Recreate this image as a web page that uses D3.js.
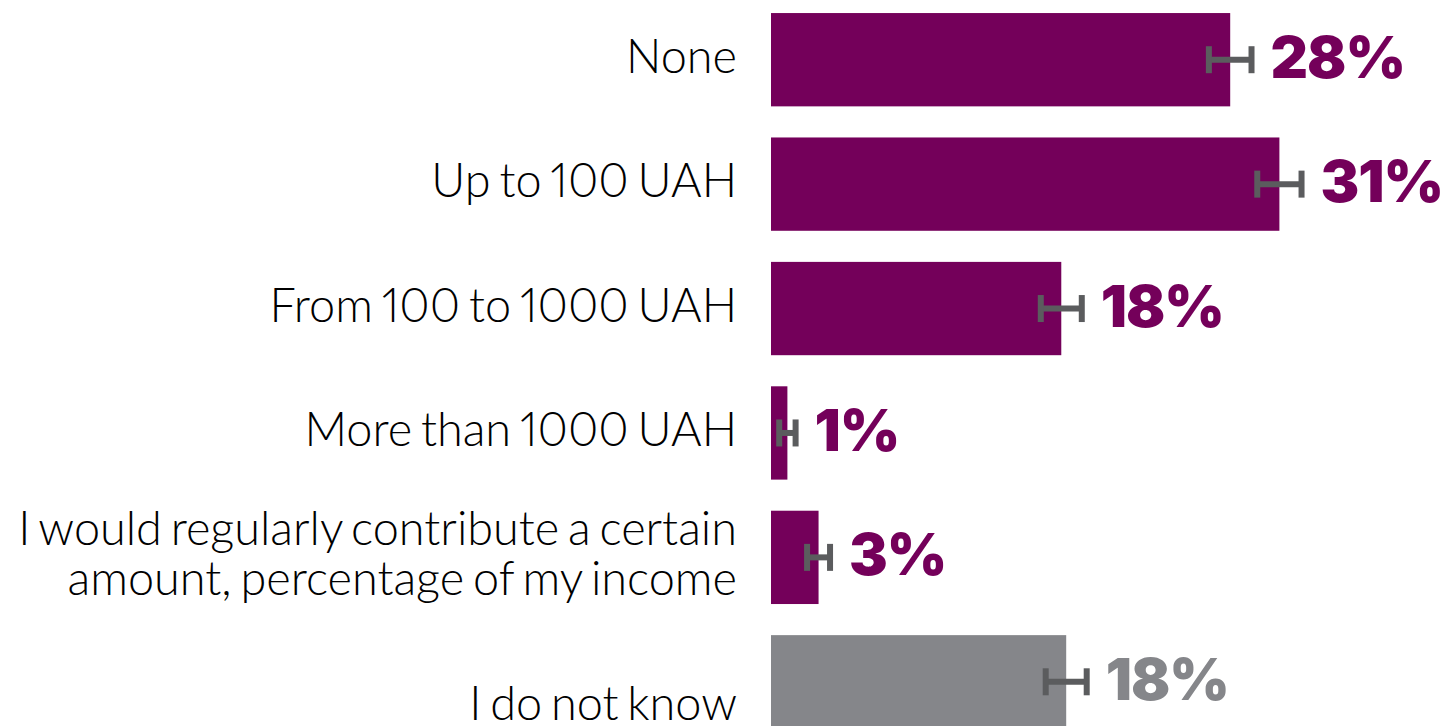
<!DOCTYPE html>
<html>
<head>
<meta charset="utf-8">
<script src="https://cdn.jsdelivr.net/npm/d3@7"></script>
<style>
  html, body { margin: 0; padding: 0; background: #fff; }
  svg { display: block; }
</style>
</head>
<body>
<div id="chart"></div>
<script>

// chart data
var categories = [
  "None",
  "Up to 100 UAH",
  "From 100 to 1000 UAH",
  "More than 1000 UAH",
  "I would regularly contribute a certain\namount, percentage of my income",
  "\nI do not know"
];
var values = [28.0, 31.0, 17.7, 1.0, 2.9, 18.0];
var errors = [1.3, 1.35, 1.25, 0.5, 0.7, 1.25];
var valueLabels = ["28%", "31%", "18%", "1%", "3%", "18%"];
var groups = ["amount", "amount", "amount", "amount", "amount", "dontKnow"];

var width = 1447, height = 726;

var svg = d3.select("#chart")
  .append("svg")
  .attr("width", width)
  .attr("height", height);

var x = d3.scaleLinear().domain([0, 40]).range([771, 771 + 40 * 16.4]);
var y = d3.scaleBand()
  .domain(d3.range(categories.length))
  .range([-2.5, 744])
  .paddingInner(0.25)
  .paddingOuter(0.125);

var barColor = d3.scaleOrdinal().domain(["amount", "dontKnow"]).range(["#74005a", "#85868a"]);
var errColor = "#5b5c5e";

var rows = svg.selectAll("g.row")
  .data(d3.range(categories.length))
  .enter().append("g")
  .attr("class", "row")
  .attr("transform", function (i) { return "translate(0," + (y(i) + y.bandwidth() / 2) + ")"; });

// bars
rows.append("rect")
  .attr("x", x(0))
  .attr("y", -y.bandwidth() / 2)
  .attr("width", function (i) { return x(values[i]) - x(0); })
  .attr("height", y.bandwidth())
  .attr("fill", function (i) { return barColor(groups[i]); });

// error bars
var capH = 27;
rows.append("line")
  .attr("x1", function (i) { return x(values[i] - errors[i]); })
  .attr("x2", function (i) { return x(values[i] + errors[i]); })
  .attr("y1", 0).attr("y2", 0)
  .attr("stroke", errColor)
  .attr("stroke-width", 6);
[-1, 1].forEach(function (s) {
  rows.append("line")
    .attr("x1", function (i) { return x(values[i] + s * errors[i]); })
    .attr("x2", function (i) { return x(values[i] + s * errors[i]); })
    .attr("y1", -capH / 2).attr("y2", capH / 2)
    .attr("stroke", errColor)
    .attr("stroke-width", 6);
});

// value labels
rows.append("text")
  .attr("x", function (i) { return x(values[i] + errors[i]) + 19; })
  .attr("y", 18)
  .attr("fill", function (i) { return barColor(groups[i]); })
  .style("font-family", "Inter, 'DejaVu Sans', sans-serif")
  .style("font-weight", "900")
  .style("font-size", "58px")
  .style("letter-spacing", "-1px")
  .style("font-variant-numeric", "proportional-nums")
  .text(function (i) { return valueLabels[i]; });

// category labels, possibly several lines
var lineH = 50;
var labelRight = 737;
var catText = rows.append("text")
  .attr("text-anchor", "end")
  .attr("fill", "#000")
  .style("font-family", "Lato, 'Open Sans', sans-serif")
  .style("font-weight", "300")
  .style("font-size", "48px")
  .style("word-spacing", "-4px")
  .style("font-variant-numeric", "proportional-nums")
  .each(function (i) {
    var lines = categories[i].split("\n");
    var t = d3.select(this);
    lines.forEach(function (ln, k) {
      t.append("tspan")
        .attr("x", 0)
        .attr("y", 13 + (k - (lines.length - 1) / 2) * lineH)
        .text(ln);
    });
  });

// the original face is condensed: squeeze so the widest line spans 18..737
var widest = 0;
catText.selectAll("tspan").each(function () {
  widest = Math.max(widest, this.getComputedTextLength());
});
var sx = (labelRight - 18) / widest;
catText.attr("transform", "translate(" + labelRight + ",0) scale(" + sx + ",1)");

</script>
</body>
</html>
